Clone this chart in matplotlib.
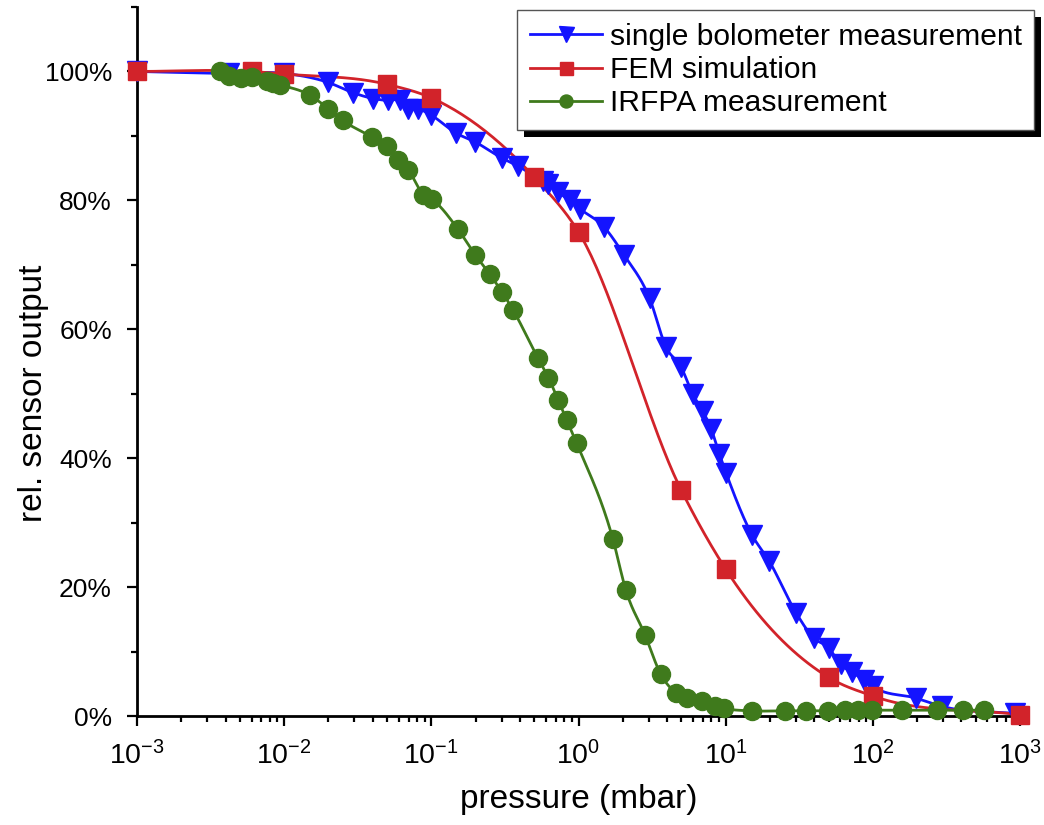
import numpy as np
import matplotlib
matplotlib.use("Agg")
import matplotlib.pyplot as plt
from matplotlib.patches import Rectangle
from matplotlib.transforms import IdentityTransform
from matplotlib.ticker import FixedLocator, MultipleLocator, FuncFormatter

# single bolometer measurement (pressure in mbar, rel. output in %)
bolo_p = [0.001, 0.0042, 0.0100, 0.0199, 0.0294, 0.0402, 0.0508, 0.061, 0.0695,
          0.0813, 0.100, 0.148, 0.197, 0.30, 0.39, 0.57, 0.62, 0.725, 0.87, 1.02,
          1.50, 2.03, 3.04, 3.94, 4.99, 5.98, 7.0, 7.98, 9.08, 10.07, 15.1, 19.8,
          30.1, 39.6, 50.0, 60.4, 72.0, 87.3, 99.7, 198, 294, 920]
bolo_v = [100.0, 99.7, 99.7, 98.3, 96.7, 95.8, 95.5, 95.5, 94.2,
          94.2, 93.2, 90.4, 89.1, 86.6, 85.3, 83.0, 82.6, 81.3, 80.0, 78.7,
          75.8, 71.6, 64.8, 57.2, 54.1, 49.9, 47.3, 44.5, 40.6, 37.7, 28.1, 24.0,
          16.0, 12.1, 10.6, 8.0, 6.8, 5.6, 4.6, 2.75, 1.5, 0.4]

# FEM simulation
fem_p = [0.001, 0.006, 0.01, 0.05, 0.1, 0.5, 1, 5, 10, 50, 100, 1000]
fem_v = [100.0, 100.0, 99.6, 98.0, 95.9, 83.6, 75.1, 35.0, 22.8, 6.0, 3.1, 0.2]

# IRFPA measurement
irfpa_p = [0.00366, 0.0042, 0.0051, 0.0060, 0.0076, 0.0084, 0.0094, 0.015, 0.020,
           0.025, 0.0397, 0.0498, 0.0597, 0.0698, 0.0883, 0.1005, 0.152, 0.198,
           0.25, 0.302, 0.359, 0.528, 0.624, 0.729, 0.832, 0.972, 1.71, 2.10,
           2.83, 3.62, 4.59, 5.43, 6.87, 8.46, 9.75, 15.0, 25.3, 35.2, 49.8,
           64.7, 79.6, 98.2, 159, 271, 412, 569]
irfpa_v = [100.0, 99.3, 99.0, 99.1, 98.5, 98.2, 97.9, 96.3, 94.2,
           92.4, 89.8, 88.4, 86.2, 84.7, 80.9, 80.2, 75.5, 71.6,
           68.5, 65.8, 63.0, 55.6, 52.5, 49.0, 45.9, 42.3, 27.5, 19.5,
           12.6, 6.5, 3.6, 2.8, 2.4, 1.6, 1.2, 0.8, 0.8, 0.8, 0.8,
           0.9, 0.9, 0.9, 0.9, 0.9, 0.9, 0.9]

labels = ["single bolometer measurement", "FEM simulation", "IRFPA measurement"]
colors = ["#1414ff", "#d2232a", "#3f7a1c"]
markers = ["v", "s", "o"]
x_exponents = [-3, -2, -1, 0, 1, 2, 3]


def smooth_line(p, v, n=40):
    """Cubic Hermite curve through the points (three-point slopes), in log10(x)."""
    x = np.log10(np.asarray(p, float))
    y = np.asarray(v, float)
    h = np.diff(x)
    d = np.diff(y) / h
    m = np.zeros_like(y)
    m[0], m[-1] = d[0], d[-1]
    for k in range(1, len(y) - 1):
        m[k] = (h[k] * d[k - 1] + h[k - 1] * d[k]) / (h[k - 1] + h[k])
    xs, ys = [], []
    for k in range(len(h)):
        t = np.linspace(0, 1, n, endpoint=False)
        h00 = 2 * t**3 - 3 * t**2 + 1
        h10 = t**3 - 2 * t**2 + t
        h01 = -2 * t**3 + 3 * t**2
        h11 = t**3 - t**2
        xs.append(x[k] + t * h[k])
        ys.append(h00 * y[k] + h10 * h[k] * m[k] + h01 * y[k + 1] + h11 * h[k] * m[k + 1])
    xs.append([x[-1]])
    ys.append([y[-1]])
    return 10 ** np.concatenate(xs), np.concatenate(ys)


def main() -> None:
    plt.rcParams["font.family"] = ["Liberation Sans", "DejaVu Sans"]
    plt.rcParams["mathtext.fontset"] = "custom"
    plt.rcParams["mathtext.rm"] = "Liberation Sans"
    plt.rcParams["mathtext.it"] = "Liberation Sans:italic"

    fig = plt.figure(figsize=(10.44, 8.25), dpi=100)
    ax = fig.add_axes([137 / 1044, 1 - 716 / 825, (1020 - 137) / 1044, (716 - 7) / 825])

    series = [(bolo_p, bolo_v, 15), (fem_p, fem_v, 13), (irfpa_p, irfpa_v, 13)]
    handles = []
    for (p, v, ms), lab, c, mk in zip(series, labels, colors, markers):
        xs, ys = smooth_line(p, v)
        ax.plot(xs, ys, color=c, lw=2.0, zorder=2)
        ax.plot(p, v, ls="none", marker=mk, ms=ms, color=c, mec=c, zorder=3, clip_on=False)
        h, = ax.plot([], [], color=c, lw=2.0, marker=mk, ms=ms * 0.72, mec=c, label=lab)
        handles.append(h)

    ax.set_xscale("log")
    ax.set_xlim(1e-3, 1e3)
    ax.set_ylim(0, 110)
    major = [10.0 ** e for e in x_exponents]
    minor = [s * 10.0 ** e for e in x_exponents[:-1] for s in range(2, 10)]
    ax.xaxis.set_major_locator(FixedLocator(major))
    ax.xaxis.set_minor_locator(FixedLocator(minor))
    ax.set_xticklabels([f"$10^{{{e}}}$" for e in x_exponents])
    ax.yaxis.set_major_locator(MultipleLocator(20))
    ax.yaxis.set_minor_locator(MultipleLocator(10))
    ax.yaxis.set_major_formatter(FuncFormatter(lambda v, _: f"{v:.0f}%" if v <= 100 else ""))

    for side in ["top", "right"]:
        ax.spines[side].set_visible(False)
    for side in ["left", "bottom"]:
        ax.spines[side].set_linewidth(2)
    ax.tick_params(which="major", direction="out", length=7, width=1.6)
    ax.tick_params(which="minor", direction="out", length=4.5, width=1.6)
    ax.tick_params(axis="y", which="major", labelsize=19, pad=11)
    ax.tick_params(axis="x", which="major", labelsize=20.5, pad=11)

    ax.set_xlabel("pressure (mbar)", fontsize=24, labelpad=10)
    ax.set_ylabel("rel. sensor output", fontsize=24)
    ax.yaxis.set_label_coords(-0.1, 50 / 110)

    leg = fig.legend(handles=handles, loc="upper left",
                     bbox_to_anchor=(517 / 1044, 1 - 10 / 825), borderaxespad=0,
                     fontsize=21.6, frameon=True, fancybox=False, framealpha=1,
                     edgecolor="#555555", handlelength=2.4, handletextpad=0.27,
                     labelspacing=0.18, borderpad=0.42)
    leg.get_frame().set_linewidth(1.0)
    leg.set_zorder(10)

    fig.canvas.draw()
    bb = leg.get_window_extent()
    shadow = Rectangle((bb.x0 + 7, bb.y0 - 7), bb.width, bb.height,
                       transform=IdentityTransform(), facecolor="black",
                       edgecolor="none", zorder=9)
    fig.add_artist(shadow)

    fig.savefig("out.png", dpi=100)


if __name__ == "__main__":
    main()
